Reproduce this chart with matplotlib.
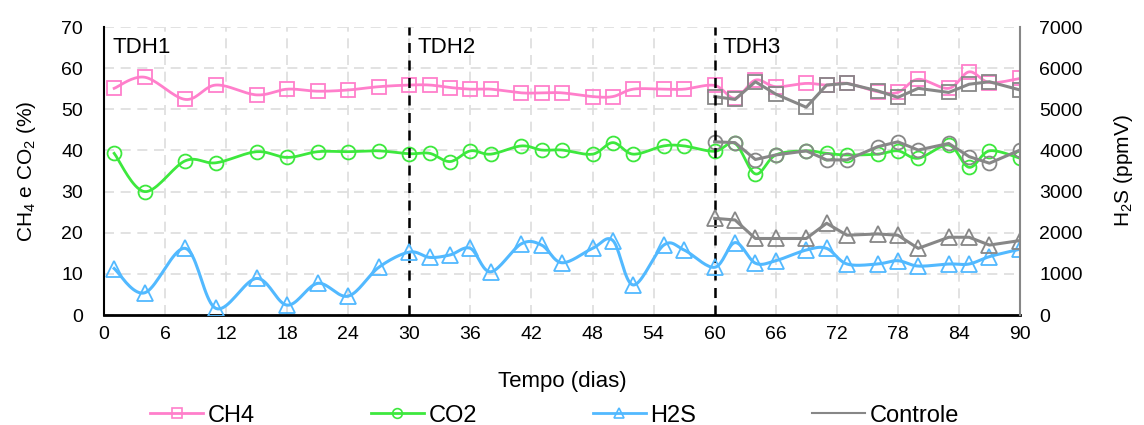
import numpy as np
import matplotlib
matplotlib.use("Agg")
import matplotlib.pyplot as plt
from matplotlib.lines import Line2D

plt.rcParams["font.family"] = ["Liberation Sans", "DejaVu Sans"]
plt.rcParams["mathtext.fontset"] = "custom"
plt.rcParams["mathtext.rm"] = "Liberation Sans"
plt.rcParams["mathtext.default"] = "regular"

# --- data ---
days = [1, 4, 8, 11, 15, 18, 21, 24, 27, 30,
        32, 34, 36, 38, 41, 43, 45, 48, 50, 52, 55, 57, 60,
        62, 64, 66, 69, 71, 73, 76, 78, 80, 83, 85, 87, 90]
ch4 = [55.1, 57.8, 52.4, 55.9, 53.5, 54.9, 54.4, 54.7, 55.5, 55.9,
       55.9, 55.3, 54.9, 54.9, 54.0, 54.0, 54.0, 53.1, 53.1, 54.9, 54.9, 54.9, 55.8,
       52.7, 57.1, 55.5, 56.3, 55.9, 56.3, 54.3, 54.1, 57.3, 55.1, 59.1, 56.5, 57.5]
co2 = [39.3, 30.0, 37.5, 37.0, 39.7, 38.3, 39.7, 39.7, 39.9, 39.2,
       39.3, 37.3, 39.9, 39.1, 41.1, 40.1, 40.1, 39.1, 41.9, 39.1, 41.1, 41.1, 39.8,
       41.7, 34.3, 38.9, 39.9, 39.3, 38.9, 39.1, 39.9, 38.1, 41.3, 35.9, 39.9, 38.1]
h2s = [1130, 540, 1620, 160, 890, 240, 770, 460, 1160, 1530,
       1400, 1460, 1620, 1050, 1730, 1700, 1270, 1620, 1810, 730, 1700, 1580, 1160,
       1760, 1260, 1320, 1580, 1620, 1240, 1240, 1320, 1190, 1240, 1240, 1420, 1600]

ctrl_days = [60, 62, 64, 66, 69, 71, 73, 76, 78, 80, 83, 85, 87, 90]
ctrl_ch4 = [53.1, 52.4, 56.7, 53.7, 50.5, 55.9, 56.3, 54.5, 52.9, 55.1, 54.1, 56.1, 56.7, 54.7]
ctrl_co2 = [42.1, 41.9, 37.8, 38.9, 39.9, 37.7, 37.7, 40.9, 42.1, 40.1, 41.7, 38.5, 36.9, 40.1]
ctrl_h2s = [2350, 2310, 1860, 1860, 1860, 2230, 1940, 1970, 1940, 1620, 1890, 1890, 1700, 1810]

phases = ["TDH1", "TDH2", "TDH3"]
phase_start = [0, 30, 60]

PINK = "#FF7FCB"
GREEN = "#3DE83D"
BLUE = "#52B9FF"
GRAY = "#878787"


def smooth(x, y, n=20):
    # Excel-like smoothed line: cubic Bezier through points (Catmull-Rom)
    p = np.column_stack([x, y]).astype(float)
    pts = [p[0]]
    for i in range(len(p) - 1):
        p0 = p[i - 1] if i > 0 else p[i]
        p1, p2 = p[i], p[i + 1]
        p3 = p[i + 2] if i + 2 < len(p) else p[i + 1]
        c1 = p1 + (p2 - p0) / 6
        c2 = p2 - (p3 - p1) / 6
        t = np.linspace(0, 1, n)[1:, None]
        seg = ((1 - t) ** 3 * p1 + 3 * (1 - t) ** 2 * t * c1
               + 3 * (1 - t) * t ** 2 * c2 + t ** 3 * p2)
        pts.extend(seg)
    pts = np.array(pts)
    return pts[:, 0], pts[:, 1]


fig = plt.figure(figsize=(11.44, 4.25), dpi=100)
ax = fig.add_axes([0.0909, 0.2588, 0.8007, 0.6776])
ax2 = ax.twinx()

ax.set_xlim(0, 90)
ax.set_ylim(0, 70)
ax2.set_ylim(0, 7000)
ax.set_xticks(range(0, 91, 6))
ax.set_yticks(range(0, 71, 10))
ax2.set_yticks(range(0, 7001, 1000))

ax.grid(True, color="#DDDDDD", linestyle=(0, (6, 4)), linewidth=1.2)
ax.set_axisbelow(True)

ax.spines["top"].set_visible(False)
ax2.spines["top"].set_visible(False)
ax.spines["left"].set_color("black")
ax.spines["left"].set_linewidth(1.5)
ax.spines["bottom"].set_color("black")
ax.spines["bottom"].set_linewidth(2)
ax.spines["right"].set_visible(False)
ax2.spines["left"].set_visible(False)
ax2.spines["bottom"].set_visible(False)
ax2.spines["right"].set_color(GRAY)
ax2.spines["right"].set_linewidth(1.5)

ax.tick_params(axis="y", length=0, labelsize=14, pad=15)
ax.tick_params(axis="x", length=0, labelsize=14, pad=8)
ax2.tick_params(length=0, labelsize=14, pad=14)

mk = dict(markerfacecolor="none", markersize=10, markeredgewidth=1.3)

# smoothed series
sx, sy = smooth(days, ch4)
ax.plot(sx, sy, color=PINK, lw=2)
ax.plot(days, ch4, ls="none", marker="s", markeredgecolor=PINK, **mk)
sx, sy = smooth(days, co2)
ax.plot(sx, sy, color=GREEN, lw=2)
ax.plot(days, co2, ls="none", marker="o", markeredgecolor=GREEN, **mk)
sx, sy = smooth(days, h2s)
ax2.plot(sx, sy, color=BLUE, lw=2.2)
ax2.plot(days, h2s, ls="none", marker="^", markeredgecolor=BLUE, markersize=11,
         markerfacecolor="none", markeredgewidth=1.3)

# control series (straight lines)
ax.plot(ctrl_days, ctrl_ch4, color=GRAY, lw=2.2, marker="s", markeredgecolor=GRAY, **mk)
ax.plot(ctrl_days, ctrl_co2, color=GRAY, lw=2.2, marker="o", markeredgecolor=GRAY, **mk)
ax2.plot(ctrl_days, ctrl_h2s, color=GRAY, lw=2.2, marker="^", markeredgecolor=GRAY,
         markersize=11, markerfacecolor="none", markeredgewidth=1.3)

# phase separators
for s, name in zip(phase_start, phases):
    if s > 0:
        ax.axvline(s, color="black", ls=(0, (4, 3)), lw=1.8)
    ax.text(s + 0.8, 65, name, fontsize=16, va="center", ha="left")

ax.set_xlabel("Tempo (dias)", fontsize=16, labelpad=20)
ax.set_ylabel("CH$_4$ e CO$_2$ (%)", fontsize=15, labelpad=17)
ax2.set_ylabel("H$_2$S (ppmV)", fontsize=15, labelpad=21)

lmk = dict(markerfacecolor="none", markersize=7, markeredgewidth=1.2)
handles = [
    Line2D([], [], color=PINK, lw=2, marker="s", markeredgecolor=PINK, **lmk),
    Line2D([], [], color=GREEN, lw=2, marker="o", markeredgecolor=GREEN, **lmk),
    Line2D([], [], color=BLUE, lw=2, marker="^", markeredgecolor=BLUE, **lmk),
    Line2D([], [], color=GRAY, lw=1.5),
]
fig.legend(handles, ["CH4", "CO2", "H2S", "Controle"], loc="center left",
           bbox_to_anchor=(150 / 1144, 0.022), ncol=4, frameon=False, fontsize=17,
           borderpad=0, borderaxespad=0,
           handlelength=2.25, handletextpad=0.2, columnspacing=4.9)

fig.savefig("out.png", dpi=100)
